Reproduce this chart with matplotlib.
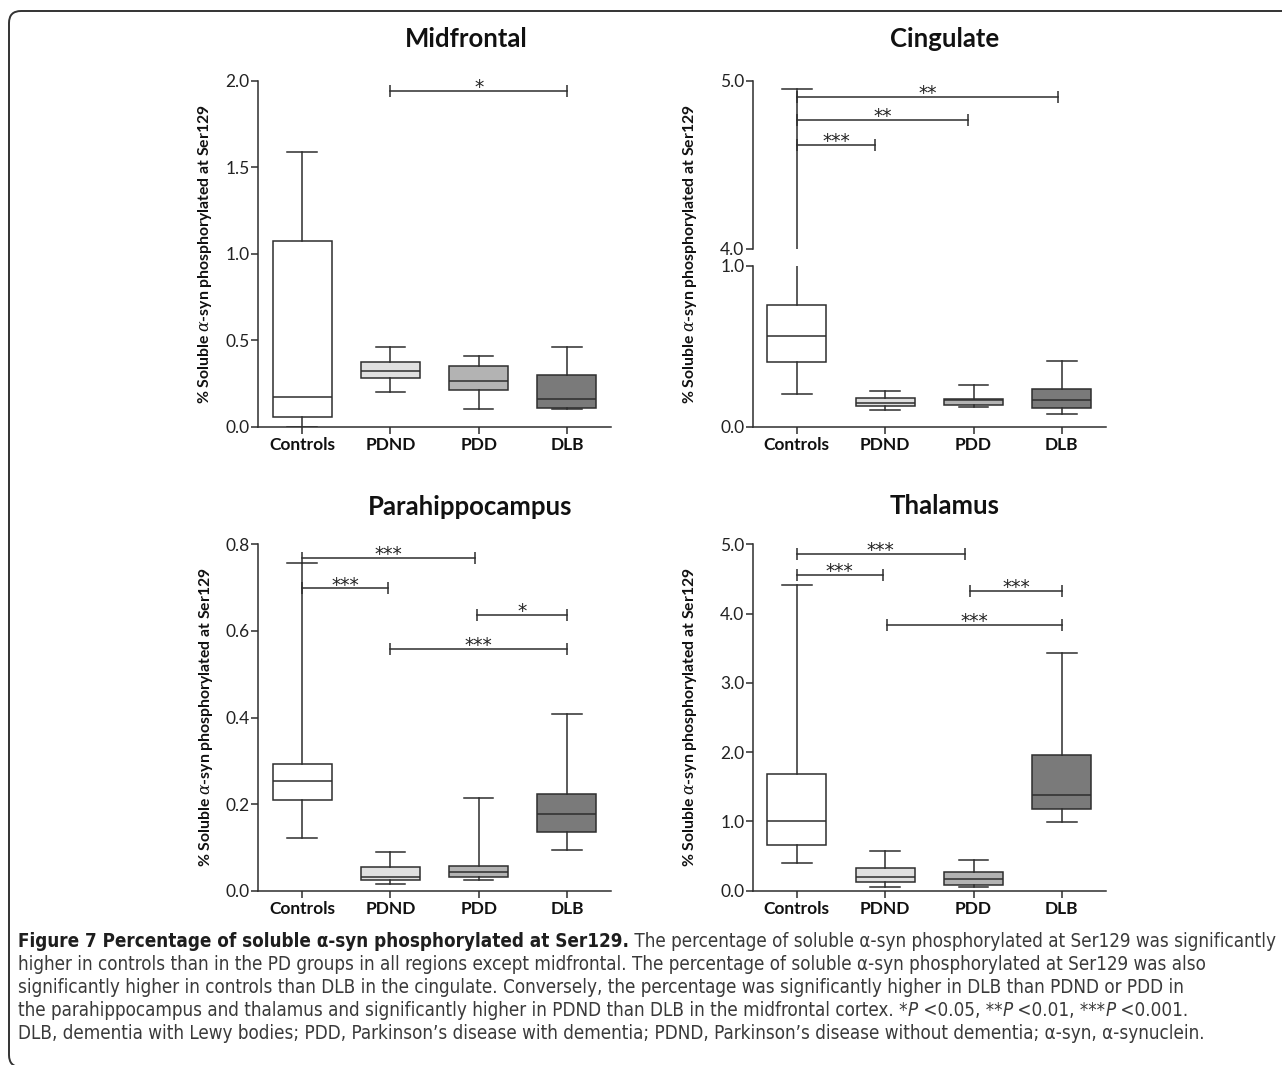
import matplotlib
matplotlib.use("Agg")
import matplotlib.pyplot as plt
from matplotlib import font_manager
from matplotlib.patches import FancyBboxPatch
from matplotlib.transforms import IdentityTransform
from matplotlib.ticker import FormatStrFormatter

# ---------------- data ----------------
groups = ["Controls", "PDND", "PDD", "DLB"]
box_colors = ["#ffffff", "#e0e0e0", "#b3b3b3", "#7a7a7a"]

# Midfrontal
mid_whislo = [0.00, 0.202, 0.102, 0.100]
mid_q1 = [0.058, 0.279, 0.214, 0.110]
mid_med = [0.171, 0.322, 0.266, 0.160]
mid_q3 = [1.073, 0.372, 0.353, 0.299]
mid_whishi = [1.59, 0.46, 0.41, 0.46]
mid_sig_x0 = [1.0]
mid_sig_x1 = [3.0]
mid_sig_y = [1.94]
mid_sig_lab = ["*"]
mid_yticks = [0.0, 0.5, 1.0, 1.5, 2.0]

# Cingulate (broken axis)
cin_whislo = [0.201, 0.102, 0.122, 0.081]
cin_q1 = [0.402, 0.131, 0.133, 0.118]
cin_med = [0.564, 0.145, 0.164, 0.164]
cin_q3 = [0.757, 0.176, 0.170, 0.232]
cin_whishi = [4.952, 0.222, 0.259, 0.409]
cin_sig_x0 = [0.0, 0.0, 0.0]
cin_sig_x1 = [2.96, 1.94, 0.89]
cin_sig_y = [4.905, 4.768, 4.615]
cin_sig_lab = ["**", "**", "***"]
cin_yticks_lo = [0.0, 1.0]
cin_yticks_hi = [4.0, 5.0]

# Parahippocampus
par_whislo = [0.122, 0.015, 0.025, 0.094]
par_q1 = [0.209, 0.025, 0.032, 0.135]
par_med = [0.253, 0.032, 0.043, 0.178]
par_q3 = [0.293, 0.055, 0.057, 0.223]
par_whishi = [0.756, 0.090, 0.214, 0.408]
par_sig_x0 = [0.0, 0.0, 1.98, 1.0]
par_sig_x1 = [1.96, 0.97, 3.0, 3.0]
par_sig_y = [0.769, 0.698, 0.636, 0.559]
par_sig_lab = ["***", "***", "*", "***"]
par_yticks = [0.0, 0.2, 0.4, 0.6, 0.8]

# Thalamus
tha_whislo = [0.395, 0.058, 0.053, 0.991]
tha_q1 = [0.654, 0.120, 0.077, 1.174]
tha_med = [1.011, 0.192, 0.164, 1.381]
tha_q3 = [1.689, 0.332, 0.274, 1.954]
tha_whishi = [4.413, 0.573, 0.438, 3.426]
tha_sig_x0 = [0.0, 0.0, 1.96, 1.02]
tha_sig_x1 = [1.90, 0.97, 3.0, 3.0]
tha_sig_y = [4.860, 4.557, 4.321, 3.835]
tha_sig_lab = ["***", "***", "***", "***"]
tha_yticks = [0.0, 1.0, 2.0, 3.0, 4.0, 5.0]

titles = ["Midfrontal", "Cingulate", "Parahippocampus", "Thalamus"]
ylabel = r"% Soluble $\alpha$-syn phosphorylated at Ser129"

caption_lines = [
    [("Figure 7 Percentage of soluble \u03b1-syn phosphorylated at Ser129.", "bold", "normal"),
     (" The percentage of soluble \u03b1-syn phosphorylated at Ser129 was significantly", "normal", "normal")],
    [("higher in controls than in the PD groups in all regions except midfrontal. The percentage of soluble \u03b1-syn phosphorylated at Ser129 was also", "normal", "normal")],
    [("significantly higher in controls than DLB in the cingulate. Conversely, the percentage was significantly higher in DLB than PDND or PDD in", "normal", "normal")],
    [("the parahippocampus and thalamus and significantly higher in PDND than DLB in the midfrontal cortex. *", "normal", "normal"),
     ("P", "normal", "italic"), (" <0.05, **", "normal", "normal"),
     ("P", "normal", "italic"), (" <0.01, ***", "normal", "normal"),
     ("P", "normal", "italic"), (" <0.001.", "normal", "normal")],
    [("DLB, dementia with Lewy bodies; PDD, Parkinson\u2019s disease with dementia; PDND, Parkinson\u2019s disease without dementia; \u03b1-syn, \u03b1-synuclein.", "normal", "normal")],
]

# ---------------- style ----------------
W, H = 1282, 1065
DPI = 100
LC = "#2e2e2e"
LW = 1.1
names = {f.name for f in font_manager.fontManager.ttflist}
FONT = "Lato" if "Lato" in names else "DejaVu Sans"
plt.rcParams["font.family"] = [FONT, "DejaVu Sans"]
plt.rcParams["mathtext.fontset"] = "dejavuserif"

fig = plt.figure(figsize=(W / DPI, H / DPI), dpi=DPI)


def px_rect(x0, y_top, x1, y_bot):
    return [x0 / W, 1 - y_bot / H, (x1 - x0) / W, (y_bot - y_top) / H]


def style_axis(ax, yticks, show_x=True):
    ax.spines["top"].set_visible(False)
    ax.spines["right"].set_visible(False)
    for s in ("left", "bottom"):
        ax.spines[s].set_color(LC)
        ax.spines[s].set_linewidth(LW)
    ax.set_xlim(-0.5, 3.5)
    ax.set_yticks(yticks)
    ax.yaxis.set_major_formatter(FormatStrFormatter("%.1f"))
    ax.tick_params(axis="y", direction="out", length=5, width=LW, color=LC,
                   labelsize=12.5, labelcolor="#222222", pad=1)
    if show_x:
        ax.set_xticks(range(len(groups)))
        ax.set_xticklabels(groups, fontweight="bold", fontsize=12.5)
        ax.tick_params(axis="x", direction="out", length=5, width=LW, color=LC,
                       labelcolor="#111111", pad=2.5)
    else:
        ax.spines["bottom"].set_visible(False)
        ax.set_xticks([])


def draw_boxes(ax, whislo, q1, med, q3, whishi):
    stats = [dict(whislo=whislo[i], q1=q1[i], med=med[i], q3=q3[i], whishi=whishi[i])
             for i in range(len(groups))]
    lp = dict(color=LC, linewidth=LW)
    bp = ax.bxp(stats, positions=list(range(len(groups))), widths=0.667,
                patch_artist=True, showfliers=False,
                boxprops=dict(edgecolor=LC, linewidth=LW),
                medianprops=lp, whiskerprops=lp, capprops=lp)
    for patch, c in zip(bp["boxes"], box_colors):
        patch.set_facecolor(c)


def draw_sig(ax, x0s, x1s, ys, labs):
    for x0, x1, y, lab in zip(x0s, x1s, ys, labs):
        ax.plot([x0, x1], [y, y], color=LC, linewidth=LW, marker="|",
                markersize=8.5, markeredgewidth=LW, clip_on=False)
        ax.annotate(lab, xy=((x0 + x1) / 2, y), xytext=(0, -1.5),
                    textcoords="offset points", ha="center", va="baseline",
                    fontsize=13.5, color="#222222", family="DejaVu Sans")


# Midfrontal
ax1 = fig.add_axes(px_rect(258, 80.7, 611, 426.7))
draw_boxes(ax1, mid_whislo, mid_q1, mid_med, mid_q3, mid_whishi)
ax1.set_ylim(0, 2.0)
style_axis(ax1, mid_yticks)
draw_sig(ax1, mid_sig_x0, mid_sig_x1, mid_sig_y, mid_sig_lab)

# Cingulate lower / upper
ax2l = fig.add_axes(px_rect(752.7, 266, 1106, 426.7))
draw_boxes(ax2l, cin_whislo, cin_q1, cin_med, cin_q3, cin_whishi)
ax2l.set_ylim(0, 1.0)
style_axis(ax2l, cin_yticks_lo)
ax2u = fig.add_axes(px_rect(752.7, 80.7, 1106, 248.7))
draw_boxes(ax2u, cin_whislo, cin_q1, cin_med, cin_q3, cin_whishi)
ax2u.set_ylim(4.0, 5.0)
style_axis(ax2u, cin_yticks_hi, show_x=False)
draw_sig(ax2u, cin_sig_x0, cin_sig_x1, cin_sig_y, cin_sig_lab)

# Parahippocampus
ax3 = fig.add_axes(px_rect(258, 544.3, 611, 890.7))
draw_boxes(ax3, par_whislo, par_q1, par_med, par_q3, par_whishi)
ax3.set_ylim(0, 0.8)
style_axis(ax3, par_yticks)
draw_sig(ax3, par_sig_x0, par_sig_x1, par_sig_y, par_sig_lab)

# Thalamus
ax4 = fig.add_axes(px_rect(752.7, 544.3, 1106, 890.7))
draw_boxes(ax4, tha_whislo, tha_q1, tha_med, tha_q3, tha_whishi)
ax4.set_ylim(0, 5.0)
style_axis(ax4, tha_yticks)
draw_sig(ax4, tha_sig_x0, tha_sig_x1, tha_sig_y, tha_sig_lab)

# titles
title_pos = [(466.7, 46.7), (944.7, 46.7), (470, 515), (944.5, 514)]
for t, (x, y) in zip(titles, title_pos):
    fig.text(x / W, 1 - y / H, t, ha="center", va="baseline", fontsize=18.5,
             fontweight="bold", color="#111111")

# y labels
ylab_pos = [(205, 253.7), (690, 253.7), (206, 717.5), (690, 717.5)]
for x, y in ylab_pos:
    fig.text(x / W, 1 - y / H, ylabel, rotation=90, ha="center", va="center",
             fontsize=11.3, fontweight="bold", color="#111111")

# frame
frame = FancyBboxPatch((9, -2), 1320, H - 11 + 2, boxstyle="round,pad=0,rounding_size=12",
                       transform=IdentityTransform(), facecolor="none",
                       edgecolor="#333333", linewidth=1.4)
fig.add_artist(frame)

# caption
if "Liberation Sans Narrow" in names:
    cap_kw = dict(family="Liberation Sans Narrow")
else:
    cap_kw = dict(family="DejaVu Sans", stretch="condensed")
renderer = fig.canvas.get_renderer()


def line_width(segs, size):
    total = 0
    for txt, wt, st in segs:
        t = fig.text(0, 0, txt, fontsize=size, fontweight=wt, style=st, **cap_kw)
        total += t.get_window_extent(renderer).width
        t.remove()
    return total


base = 10.0
cap_size = base * (1275 - 18) / line_width(caption_lines[0], base)
baselines = [947, 970, 993, 1016, 1039]
for segs, yb in zip(caption_lines, baselines):
    x = 18
    for txt, wt, st in segs:
        t = fig.text(x / W, 1 - yb / H, txt, fontsize=cap_size, fontweight=wt, style=st,
                     ha="left", va="baseline", color="#1e1e1e" if wt == "bold" else "#3a3a3a",
                     **cap_kw)
        x += t.get_window_extent(renderer).width

fig.savefig("out.png", dpi=DPI)
